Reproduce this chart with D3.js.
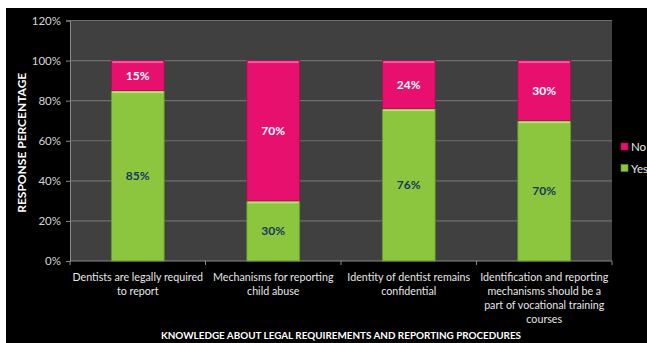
<!DOCTYPE html>
<html>
<head>
<meta charset="utf-8">
<script src="https://cdn.jsdelivr.net/npm/d3@7"></script>
<style>
  html, body { margin: 0; padding: 0; background: #ffffff; }
  svg { display: block; }
  text { font-family: Lato, "Open Sans", sans-serif; }
</style>
</head>
<body>
<svg id="chart" width="647" height="343"></svg>
<script>
// Survey responses per knowledge item
const categories = [
  ["Dentists are legally required", "to report"],
  ["Mechanisms for reporting", "child abuse"],
  ["Identity of dentist remains", "confidential"],
  ["Identification and reporting", "mechanisms should be a", "part of vocational training", "courses"]
];
const yesValues = [85, 30, 76, 70];
const noValues = [15, 70, 24, 30];
const yTicks = [0, 20, 40, 60, 80, 100, 120];
const seriesNames = ["No", "Yes"];

const svg = d3.select("#chart");
const W = 647, H = 343;

// black panel
svg.append("rect").attr("x", 6).attr("y", 8).attr("width", W - 6).attr("height", H - 8).attr("fill", "#000");

const plot = { left: 70, right: 612, top: 20.5, bottom: 261 };

const x = d3.scaleBand()
  .domain(d3.range(categories.length))
  .range([plot.left, plot.right])
  .paddingInner(0.61)
  .paddingOuter(0.305);

const y = d3.scaleLinear().domain([0, 120]).range([plot.bottom, plot.top]);

// plot area
svg.append("rect")
  .attr("x", plot.left).attr("y", plot.top)
  .attr("width", plot.right - plot.left).attr("height", plot.bottom - plot.top)
  .attr("fill", "#404040");

// gridlines
svg.append("g").selectAll("line").data(yTicks.filter(t => t > 0)).join("line")
  .attr("x1", plot.left).attr("x2", plot.right)
  .attr("y1", d => y(d)).attr("y2", d => y(d))
  .attr("stroke", "#6e6e6e").attr("stroke-width", 1.2);

// y axis
const yAxis = d3.axisLeft(y).tickValues(yTicks).tickFormat(d => d + "%").tickSize(4).tickPadding(5);
const gy = svg.append("g").attr("transform", `translate(${plot.left},0)`).call(yAxis);
gy.select(".domain").attr("stroke", "#8a8a8a");
gy.selectAll(".tick line").attr("stroke", "#8a8a8a");
gy.selectAll("text").attr("fill", "#d6d6d6").attr("font-size", 11.5).style("font-family", "Lato, sans-serif");

// x axis line and category separators
const gx = svg.append("g");
gx.append("line").attr("x1", plot.left).attr("x2", plot.right)
  .attr("y1", plot.bottom).attr("y2", plot.bottom).attr("stroke", "#8a8a8a");
gx.selectAll(".sep").data(d3.range(categories.length + 1)).join("line")
  .attr("class", "sep")
  .attr("x1", i => plot.left + i * (plot.right - plot.left) / categories.length)
  .attr("x2", i => plot.left + i * (plot.right - plot.left) / categories.length)
  .attr("y1", plot.bottom).attr("y2", plot.bottom + 4)
  .attr("stroke", "#8a8a8a");

// stacked bars
const rows = yesValues.map((v, i) => ({ i, Yes: v, No: noValues[i] }));
const stack = d3.stack().keys(["Yes", "No"]);
const layers = stack(rows);
const fills = { Yes: "#8cc63e", No: "#e8106e" };
const highlights = { Yes: "#b4df78", No: "#f35a9c" };
const edges = { Yes: "#5f9a26", No: "#a80b50" };
const labelColors = { Yes: "#17375e", No: "#ffffff" };

layers.forEach(layer => {
  const key = layer.key;
  const g = svg.append("g");
  g.selectAll("rect.seg").data(layer).join("rect")
    .attr("class", "seg")
    .attr("x", (d, i) => x(i))
    .attr("y", d => y(d[1]))
    .attr("width", x.bandwidth())
    .attr("height", d => y(d[0]) - y(d[1]))
    .attr("fill", fills[key])
    .attr("stroke", edges[key]).attr("stroke-width", 0.8);
  // bevel highlight along the top edge
  g.selectAll("rect.hl").data(layer).join("rect")
    .attr("class", "hl")
    .attr("x", (d, i) => x(i) + 1)
    .attr("y", d => y(d[1]) + 0.5)
    .attr("width", x.bandwidth() - 2)
    .attr("height", 2)
    .attr("fill", highlights[key]);
  g.selectAll("text").data(layer).join("text")
    .attr("x", (d, i) => x(i) + x.bandwidth() / 2)
    .attr("y", d => (y(d[0]) + y(d[1])) / 2)
    .attr("dy", "0.35em")
    .attr("text-anchor", "middle")
    .attr("font-size", 12)
    .attr("font-weight", "bold")
    .attr("fill", labelColors[key])
    .text(d => (d[1] - d[0]) + "%");
});

// category labels
const cat = svg.append("g");
categories.forEach((lines, i) => {
  const cx = x(i) + x.bandwidth() / 2;
  const t = cat.append("text")
    .attr("x", cx)
    .attr("y", 281)
    .attr("text-anchor", "middle")
    .attr("font-size", 10.7)
    .attr("fill", "#e6e6e6");
  lines.forEach((ln, k) => {
    t.append("tspan").attr("x", cx).attr("dy", k === 0 ? 0 : 14).text(ln);
  });
});

// axis titles
svg.append("text")
  .attr("x", 341).attr("y", 339)
  .attr("text-anchor", "middle")
  .attr("font-size", 9.9).attr("font-weight", "bold").attr("fill", "#ffffff")
  .text("KNOWLEDGE ABOUT LEGAL REQUIREMENTS AND REPORTING PROCEDURES");

svg.append("text")
  .attr("transform", `translate(26,${(plot.top + plot.bottom) / 2 + 2}) rotate(-90)`)
  .attr("text-anchor", "middle")
  .attr("font-size", 12).attr("font-weight", "bold").attr("fill", "#ffffff")
  .text("RESPONSE PERCENTAGE");

// legend
const legend = svg.append("g");
seriesNames.forEach((name, k) => {
  const ly = 147 + k * 21.5;
  legend.append("rect").attr("x", 621).attr("y", ly - 4).attr("width", 7).attr("height", 7)
    .attr("fill", fills[name]).attr("stroke", edges[name]).attr("stroke-width", 0.6);
  legend.append("text").attr("x", 631).attr("y", ly).attr("dy", "0.35em")
    .attr("font-size", 11.5).attr("fill", "#e6e6e6").text(name);
});
</script>
</body>
</html>
